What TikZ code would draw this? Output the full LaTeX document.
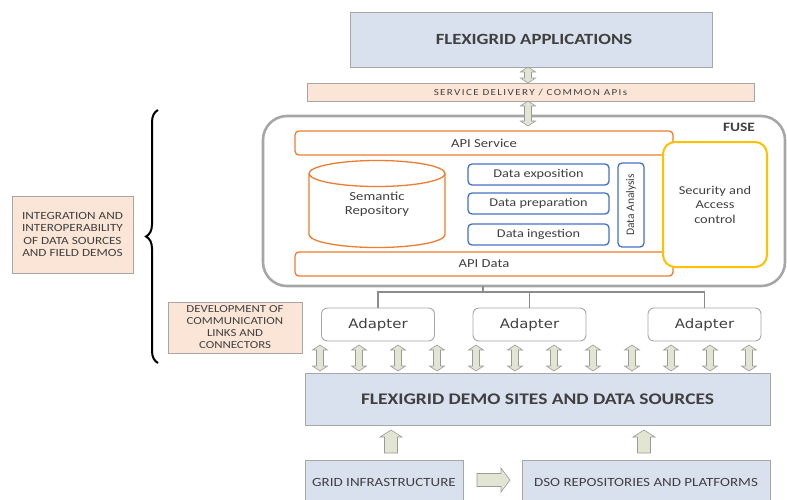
\documentclass[tikz,border=0pt]{standalone}
\usepackage{fontspec}
\setmainfont{Carlito}[FakeStretch=1.2]
\newfontfamily\adfont{DejaVu Sans}[FakeStretch=1.15]
\usetikzlibrary{calc,decorations.pathreplacing}
\definecolor{boxblue}{HTML}{D9E1EE}
\definecolor{boxline}{HTML}{A6A6A6}
\definecolor{peach}{HTML}{FBE5D6}
\definecolor{orangeln}{HTML}{ED7D31}
\definecolor{blueln}{HTML}{4472C4}
\definecolor{yellowln}{HTML}{FFC000}
\definecolor{arrowfill}{HTML}{E2E5D2}
\definecolor{arrowline}{HTML}{9A9A9A}
\definecolor{txt}{HTML}{404040}
\definecolor{fuseline}{HTML}{8C8C8C}
\begin{document}
\begin{tikzpicture}[x=1pt,y=-1pt,
  every node/.style={text=txt, inner sep=0pt, outer sep=0pt},
  bluebox/.style={draw=boxline, fill=boxblue, line width=0.8pt},
  peachbox/.style={draw=boxline, fill=peach, line width=0.8pt},
  orangebox/.style={draw=orangeln, fill=white, line width=1.3pt, rounded corners=4pt},
  bluebx/.style={draw=blueln, fill=white, line width=1.3pt, rounded corners=4pt},
  adapterbox/.style={draw=boxline, fill=white, line width=0.9pt, rounded corners=6pt, minimum width=113pt, minimum height=33pt, font=\adfont\fontsize{13}{15}\selectfont},
  conn/.style={draw=fuseline, line width=1.2pt},
  dblarr/.style n args={3}{draw=arrowline, fill=arrowfill, line width=0.6pt, to path={
    ($(\tikztostart)!#1!(\tikztotarget)$) coordinate (h1)
    ($(\tikztotarget)!#1!(\tikztostart)$) coordinate (h2)
    (\tikztostart) -- ($(h1)!#3!90:(\tikztotarget)$) -- ($(h1)!#2!90:(\tikztotarget)$)
    -- ($(h2)!#2!-90:(\tikztostart)$) -- ($(h2)!#3!-90:(\tikztostart)$) -- (\tikztotarget)
    -- ($(h2)!#3!90:(\tikztostart)$) -- ($(h2)!#2!90:(\tikztostart)$)
    -- ($(h1)!#2!-90:(\tikztotarget)$) -- ($(h1)!#3!-90:(\tikztotarget)$) -- cycle}},
  sglarr/.style n args={3}{draw=arrowline, fill=arrowfill, line width=0.6pt, to path={
    ($(\tikztotarget)!#1!(\tikztostart)$) coordinate (hh)
    ($(\tikztostart)!#2!90:(\tikztotarget)$) -- ($(hh)!#2!-90:(\tikztostart)$)
    -- ($(hh)!#3!-90:(\tikztostart)$) -- (\tikztotarget) -- ($(hh)!#3!90:(\tikztostart)$)
    -- ($(hh)!#2!90:(\tikztostart)$) -- ($(\tikztostart)!#2!-90:(\tikztotarget)$) -- cycle}}
]
\useasboundingbox (0,0) rectangle (787,499);
\clip (0,0) rectangle (787,499);

% top boxes
\node[bluebox, minimum width=362pt, minimum height=55pt, font=\bfseries\fontsize{15.6}{18}\selectfont] (apps) at (531,39.5) {\hspace*{6pt}FLEXIGRID APPLICATIONS};
\node[peachbox, minimum width=447pt, minimum height=18pt, font=\fontsize{9.2}{10}\selectfont\addfontfeature{LetterSpace=15}] (svc) at (530.5,92) {SERVICE DELIVERY / COMMON APIs};

% FUSE container
\node[draw=boxline, line width=2.6pt, rounded corners=24pt, minimum width=522pt, minimum height=170pt] (fuse) at (524,201) {};
\node[font=\bfseries\fontsize{12.8}{14}\selectfont] (fuselbl) at (739,127) {FUSE};

\coordinate (ax) at (528,0);
\draw[dblarr={5pt}{3.5pt}{7.5pt}] (apps.south -| ax) to (svc.north -| ax);
\draw[dblarr={5pt}{3.5pt}{7.5pt}] (svc.south -| ax) to ($(fuse.north -| ax)+(0,10)$);

\node[orangebox, minimum width=378pt, minimum height=24pt, font=\fontsize{12.2}{13}\selectfont] (apisvc) at (484,143) {API Service};
\node[orangebox, minimum width=378pt, minimum height=24pt, font=\fontsize{12.2}{13}\selectfont] (apidata) at (484,264) {API Data};

% semantic repository cylinder
\node[minimum width=136pt, minimum height=87pt] (sem) at (377,204) {};
\draw[draw=orangeln, fill=white, line width=1.3pt]
  ($(sem.north west)+(0,13)$) -- ($(sem.south west)+(0,-13)$) arc[start angle=180, end angle=360, x radius=68pt, y radius=13pt]
  -- ($(sem.north east)+(0,13)$) arc[start angle=0, end angle=180, x radius=68pt, y radius=13pt] -- cycle;
\draw[draw=orangeln, line width=1.3pt] ($(sem.north west)+(0,13)$) arc[start angle=180, end angle=360, x radius=68pt, y radius=13pt];
\node[align=center, font=\fontsize{12.3}{14.5}\selectfont] (semtxt) at (sem.center) {Semantic\\Repository};

\node[bluebx, minimum width=141pt, minimum height=21pt, font=\fontsize{11.9}{14}\selectfont] (dexp) at (538.5,174.5) {Data exposition};
\node[bluebx, minimum width=141pt, minimum height=21pt, font=\fontsize{11.9}{14}\selectfont] (dprep) at (538.5,203.5) {Data preparation};
\node[bluebx, minimum width=141pt, minimum height=21pt, font=\fontsize{11.9}{14}\selectfont] (ding) at (538.5,234.5) {Data ingestion};
\node[bluebx, minimum width=26pt, minimum height=84pt] (dana) at (631,205) {};
\node[rotate=90, font=\fontsize{11.5}{13}\selectfont\addfontfeature{FakeStretch=1.0}] (danatxt) at (dana.center) {Data Analysis};

\node[draw=yellowln, fill=white, line width=2pt, rounded corners=12pt, minimum width=104pt, minimum height=125pt, align=center, font=\fontsize{12}{14.5}\selectfont] (sec) at (715,204.5) {Security and\\Access\\control};

% adapters
\node[adapterbox] (a1) at (378,324.5) {Adapter};
\node[adapterbox] (a2) at (529.5,324.5) {Adapter};
\node[adapterbox] (a3) at (704.5,324.5) {Adapter};
\coordinate (hub) at (483,292);
\draw[conn] (hub) -- (hub |- fuse.south);
\draw[conn] (a1.north) |- (hub) -| (a3.north);
\draw[conn] (a2.north) -- (a2.north |- hub);

% demo sites
\node[bluebox, minimum width=465pt, minimum height=52pt, font=\bfseries\fontsize{16.2}{19}\selectfont] (demo) at (537.5,399) {FLEXIGRID DEMO SITES AND DATA SOURCES};
\foreach \x in {320,359,...,749}{
  \draw[dblarr={5pt}{3.5pt}{7.5pt}] ($(\x,0 |- a1.south)+(0,4)$) to ($(\x,0 |- demo.north)+(0,-2)$);
}

% bottom boxes
\node[bluebox, minimum width=158pt, minimum height=48pt, font=\fontsize{12.5}{14}\selectfont] (grid) at (384,484) {\raisebox{3pt}{GRID INFRASTRUCTURE}};
\node[bluebox, minimum width=248pt, minimum height=48pt, font=\fontsize{12.5}{14}\selectfont] (dso) at (646,484) {\raisebox{3pt}{DSO REPOSITORIES AND PLATFORMS}};
\draw[sglarr={7pt}{6.5pt}{11pt}] ($(grid.north -| 391,0)+(0,-7)$) to ($(demo.south -| 391,0)+(0,5)$);
\draw[sglarr={7pt}{6.5pt}{11pt}] ($(dso.north -| 644,0)+(0,-7)$) to ($(demo.south -| 644,0)+(0,5)$);
\draw[sglarr={9pt}{6.5pt}{12pt}] ($(grid.east |- 0,480)+(14,0)$) to ($(dso.west |- 0,480)+(-12,0)$);

% left labels and brace
\node[peachbox, minimum width=121pt, minimum height=77pt, align=center, font=\fontsize{11}{12.5}\selectfont] (lab1) at (72.5,234.5) {INTEGRATION AND\\INTEROPERABILITY\\OF DATA SOURCES\\AND FIELD DEMOS};
\node[peachbox, minimum width=134pt, minimum height=51pt, align=center, font=\fontsize{10.7}{12}\selectfont] (lab2) at (235,327.5) {DEVELOPMENT OF\\COMMUNICATION\\LINKS AND\\CONNECTORS};
\coordinate (bb) at (158,363);
\coordinate (bt) at (158,110);
\draw[line width=2pt, decorate, decoration={brace, amplitude=12pt}] (bb) -- (bt);
\end{tikzpicture}
\end{document}
